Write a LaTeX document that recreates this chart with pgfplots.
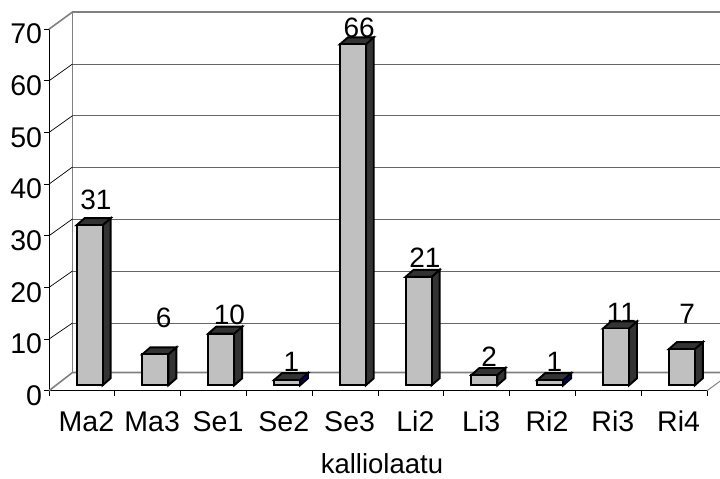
\documentclass[border=0pt]{standalone}
\usepackage{pgfplots}
\usepackage{pgfplotstable}
\usepackage{fontspec}
\setmainfont{Liberation Sans}
\pgfplotsset{compat=1.18}
\definecolor{wallgray}{HTML}{808080}
\definecolor{barfront}{HTML}{C0C0C0}
\definecolor{bardark}{HTML}{333333}
\definecolor{sideblue}{HTML}{000080}

% position, value, horizontal and vertical shift of the value label
\pgfplotstableread{
pos  val dx dy
0.5  31  14 30.6
1.5  6   16 41.7
2.5  10  16 24
3.5  1   12 23.5
4.5  66  14 22
5.5  21  14 25
6.5  2   12.5 23.4
7.5  1   12 23.5
8.5  11  13 21
9.5  7   13 40.5
}\rockdata

\tikzset{
  bareDge/.style={draw=black,line width=1.9pt,line join=miter},
  wallmain/.style={draw=wallgray,line width=1.6pt},
  wallgrid/.style={draw=black!60,line width=.9pt},
  walldiag/.style={draw=black,line width=.7pt},
}

% one block: front, top and side face; #1 category index, #2 value, #3 side colour
\newcommand{\rockblock}[3]{%
  \pgfmathsetmacro\xa{#1+0.4195}%
  \pgfmathsetmacro\xb{\xa+0.395}%
  \pgfmathsetmacro\xc{\xb+0.1216}%
  \pgfmathsetmacro\xd{\xa+0.1216}%
  \pgfmathsetmacro\ya{1.045}%
  \pgfmathsetmacro\yb{#2+1.045}%
  \pgfmathsetmacro\yc{\yb+1.355}%
  \pgfmathsetmacro\ye{\ya+1.355}%
  \edef\blockfaces{%
    \noexpand\addplot[bareDge,fill=#3] coordinates {(\xb,\ya) (\xb,\yb) (\xc,\yc) (\xc,\ye)} --cycle;
    \noexpand\addplot[bareDge,fill=bardark] coordinates {(\xa,\yb) (\xb,\yb) (\xc,\yc) (\xd,\yc)} --cycle;
    \noexpand\addplot[bareDge,fill=barfront] coordinates {(\xa,\ya) (\xa,\yb) (\xb,\yb) (\xb,\ya)} --cycle;
  }%
  \blockfaces
}

\begin{document}
\begin{tikzpicture}
\useasboundingbox (0,0) rectangle (720pt,479pt);
\begin{axis}[
  at={(49pt,88.3pt)},anchor=south west,
  scale only axis,width=658pt,height=361.55pt,
  xmin=0,xmax=10,ymin=0,ymax=70,
  clip=false,
  axis x line*=bottom,axis y line*=left,
  axis line style={-,black,line width=1pt},
  tick align=outside,major tick length=5pt,
  tick style={black,line width=.8pt},
  xtick={0,...,10},
  x tick label as interval,
  xticklabels={Ma2,Ma3,Se1,Se2,Se3,Li2,Li3,Ri2,Ri3,Ri4},
  ytick={0,10,...,70},
  /pgf/number format/assume math mode=true,
  tick label style={font=\fontsize{28.5}{30}\selectfont},
  xticklabel style={xshift=4.5pt,yshift=-12pt},
  yticklabel style={yshift=-5pt,xshift=1.5pt},
  xlabel={kalliolaatu},
  xlabel style={font=\fontsize{27.5}{30}\selectfont,inner sep=0pt,at={(axis description cs:0.506,0)},anchor=south,yshift=-83.5pt},
]
% floor and walls behind the blocks
\addplot[wallmain] coordinates {(0,0) (0.357,3.52) (10.2,3.52)};
\addplot[wallmain] coordinates {(0.357,3.52) (0.357,73.32) (10.2,73.32)};
\addplot[wallmain] coordinates {(0,70) (0.357,73.32)};
\addplot[wallgray,line width=1pt] coordinates {(10,0) (10.2,1.86)};
% horizontal lines on the back wall with their links to the value axis
\addplot[wallgrid] coordinates {(0.357,13.11) (10.2,13.11)};
\addplot[wallgrid] coordinates {(0.357,23.18) (10.2,23.18)};
\addplot[wallgrid] coordinates {(0.357,33.25) (10.2,33.25)};
\addplot[wallgrid] coordinates {(0.357,43.31) (10.2,43.31)};
\addplot[wallgrid] coordinates {(0.357,53.24) (10.2,53.24)};
\addplot[wallgrid] coordinates {(0.357,63.25) (10.2,63.25)};
\addplot[walldiag] coordinates {(0,10) (0.357,13.11)};
\addplot[walldiag] coordinates {(0,20) (0.357,23.18)};
\addplot[walldiag] coordinates {(0,30) (0.357,33.25)};
\addplot[walldiag] coordinates {(0,40) (0.357,43.31)};
\addplot[walldiag] coordinates {(0,50) (0.357,53.24)};
\addplot[walldiag] coordinates {(0,60) (0.357,63.25)};
% blocks
\rockblock{0}{31}{bardark}
\rockblock{1}{6}{bardark}
\rockblock{2}{10}{bardark}
\rockblock{3}{1}{sideblue}
\rockblock{4}{66}{bardark}
\rockblock{5}{21}{bardark}
\rockblock{6}{2}{bardark}
\rockblock{7}{1}{sideblue}
\rockblock{8}{11}{bardark}
\rockblock{9}{7}{bardark}
% value labels
\addplot[
  only marks,mark=none,
  visualization depends on={\thisrow{dx}\as\labeldx},
  visualization depends on={\thisrow{dy}\as\labeldy},
  nodes near coords,
  every node near coord/.append style={
    font=\fontsize{28}{30}\selectfont,anchor=center,inner sep=0pt,
    xshift=\labeldx pt,yshift=\labeldy pt},
] table[x=pos,y=val] {\rockdata};
\end{axis}
\end{tikzpicture}
\end{document}
